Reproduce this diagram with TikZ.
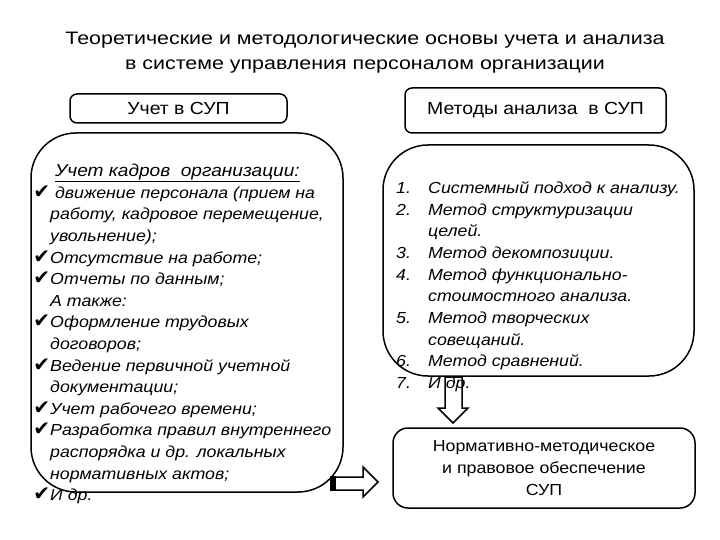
\documentclass[tikz,border=0pt]{standalone}
\usepackage{fontspec}
\setmainfont[FakeStretch=1.11]{Liberation Sans}
\newfontfamily\titlefont[FakeStretch=1.19]{Liberation Sans}
\newfontfamily\symfont{DejaVu Sans}
\newcommand{\chk}{{\symfont\fontsize{20}{20}\selectfont ✔}}
\newcommand{\num}[1]{\llap{\makebox[32pt][l]{#1}}}

\begin{document}
\begin{tikzpicture}[x=1pt,y=-1pt,
  hdrbox/.style={draw, line width=1.5pt, rounded corners=7pt, inner sep=0pt},
  bigbox/.style={draw, line width=1.5pt, rounded corners=45pt, inner sep=0pt},
  blockarrow/.style={draw, fill=white, line width=1.5pt, line join=miter}]
\useasboundingbox (0,0) rectangle (720,540);
% title (base = last line)
\node[anchor=base, align=center, inner sep=0pt, font=\titlefont\fontsize{18}{25}\selectfont] (title) at (365,70)
  {Теоретические и методологические основы учета и анализа\\в системе управления персоналом организации};
% header boxes
\node[hdrbox, minimum width=217pt, minimum height=29pt, font=\fontsize{17.5}{20}\selectfont] (uchet) at (178.5,108.5) {Учет в СУП};
\node[hdrbox, minimum width=261pt, minimum height=45pt, font=\fontsize{17.5}{20}\selectfont] (metody) at (535.5,110.5) {Методы анализа\ \ в СУП};
% big boxes
\node[bigbox, minimum width=312pt, minimum height=359pt] (left) at (187,312.5) {};
\node[bigbox, minimum width=311pt, minimum height=231pt] (right) at (538.5,260.5) {};
\node[hdrbox, rounded corners=15pt, minimum width=302pt, minimum height=80pt, align=center,
  font=\fontsize{16}{22}\selectfont] (normy) at (544,468)
  {Нормативно-методическое\\и правовое обеспечение\\СУП};
% arrows
\draw[blockarrow] (445,377) -- (462,377) -- (462,408) -- (468,408) -- (453,423)
  -- (438,408) -- (445,408) -- cycle;
\draw[blockarrow] (331,477) -- (363,477) -- (363,467) -- (378,482) -- (363,497)
  -- (363,490) -- (331,490) -- cycle;
\fill (330,476.25) rectangle (336,490.75);
% left list
\node[anchor=base west, align=left, inner sep=0pt,
  font=\itshape\fontsize{16}{21.6}\selectfont] (kadry) at (50,500.7)
  {\hspace{5pt}{\fontsize{17.2}{21.6}\selectfont\underline{Учет кадров\ \ организации:}}\\
   \llap{\chk}\ движение персонала (прием на\\
   работу, кадровое перемещение,\\
   увольнение);\\
   \llap{\chk}Отсутствие на работе;\\
   \llap{\chk}Отчеты по данным;\\
   А также:\\
   \llap{\chk}Оформление трудовых\\
   договоров;\\
   \llap{\chk}Ведение первичной учетной\\
   документации;\\
   \llap{\chk}Учет рабочего времени;\\
   \llap{\chk}Разработка правил внутреннего\\
   распорядка и др. локальных\\
   нормативных актов;\\
   \llap{\chk}И др.};
% right list
\node[anchor=base west, align=left, inner sep=0pt,
  font=\itshape\fontsize{16}{21.7}\selectfont] (analiz) at (428,388.6)
  {\num{1.}Системный подход к анализу.\\
   \num{2.}Метод структуризации\\
   целей.\\
   \num{3.}Метод декомпозиции.\\
   \num{4.}Метод функционально-\\
   стоимостного анализа.\\
   \num{5.}Метод творческих\\
   совещаний.\\
   \num{6.}Метод сравнений.\\
   \num{7.}И др.};
\end{tikzpicture}
\end{document}
